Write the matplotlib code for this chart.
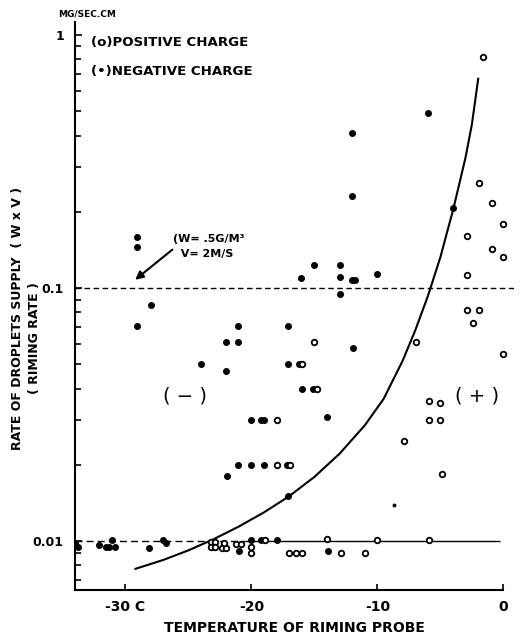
import numpy as np
import matplotlib
matplotlib.use("Agg")
import matplotlib.pyplot as plt
import matplotlib.ticker as ticker

# negative charge (filled dots): temperature (C), riming rate (mg/sec.cm)
neg_temp = [-34.0, -33.8, -32.1, -31.5, -31.3, -31.1, -30.8, -28.1, -27.0, -26.8,
            -29.1, -29.1, -29.1, -28.0,
            -21.1, -22.0, -21.1, -24.0, -22.0,
            -20.0, -19.2, -19.0,
            -21.1, -20.0, -19.0, -21.9,
            -17.1, -17.2, -16.0, -15.1, -17.1, -16.2, -14.0, -17.1, -11.9,
            -12.0, -12.0, -6.0, -4.0,
            -15.0, -13.0, -16.1, -13.0, -10.0, -12.0, -11.8, -13.0,
            -20.0, -19.2, -18.0, -21.0, -13.9]
neg_rate = [0.0098, 0.0095, 0.0096, 0.0095, 0.0095, 0.0101, 0.0095, 0.0094, 0.0101, 0.0098,
            0.159, 0.145, 0.071, 0.086,
            0.071, 0.061, 0.061, 0.050, 0.047,
            0.030, 0.030, 0.030,
            0.020, 0.020, 0.020, 0.018,
            0.015, 0.020, 0.040, 0.040, 0.050, 0.050, 0.031, 0.071, 0.058,
            0.41, 0.23, 0.49, 0.207,
            0.123, 0.123, 0.109, 0.110, 0.114, 0.107, 0.107, 0.095,
            0.0101, 0.0101, 0.0101, 0.0091, 0.0091]

# positive charge (open circles)
pos_temp = [-1.6, -1.9, -0.9, -0.05, -2.9, -0.9, -0.05, -2.9, -2.9, -1.9, -2.4, -0.05,
            -6.9, -15.0, -16.0, -14.8, -5.9, -5.0, -5.9, -5.0, -7.9, -4.9,
            -18.0, -18.0, -16.9,
            -18.9, -14.0, -10.0, -5.9,
            -17.0, -16.5, -16.0, -12.9, -11.0, -20.0, -20.0,
            -23.2, -23.2, -22.9, -22.9, -22.3, -22.0, -22.2, -21.2, -20.8]
pos_rate = [0.82, 0.26, 0.217, 0.179, 0.161, 0.143, 0.133, 0.113, 0.082, 0.082, 0.073, 0.055,
            0.061, 0.061, 0.050, 0.040, 0.0357, 0.0351, 0.030, 0.030, 0.0248, 0.0184,
            0.030, 0.020, 0.020,
            0.0101, 0.0102, 0.0101, 0.0101,
            0.0090, 0.0090, 0.0090, 0.0090, 0.0090, 0.0090, 0.0095,
            0.0099, 0.0095, 0.0099, 0.0095, 0.0094, 0.0094, 0.0098, 0.0097, 0.0097]

# stray small dot
stray_temp = [-8.7]
stray_rate = [0.0139]

# dividing curve
curve_temp = [-29.2, -27.0, -25.0, -23.0, -21.0, -19.0, -17.0, -15.0, -13.0, -11.0,
              -9.5, -8.0, -7.0, -6.0, -5.0, -4.5, -4.0, -3.5, -3.0, -2.5, -2.25, -2.0]
curve_rate = [0.00776, 0.00841, 0.00918, 0.01016, 0.0114, 0.01297, 0.01503, 0.01791,
              0.02213, 0.02864, 0.03648, 0.05152, 0.06792, 0.09268, 0.1324, 0.164,
              0.2028, 0.258, 0.3289, 0.4436, 0.546, 0.6714]

font = dict(family="DejaVu Sans", weight="bold")

fig = plt.figure(figsize=(5.2, 6.37), dpi=100)
ax = fig.add_axes([0.1442, 0.0738, 0.8433, 0.8917])
ax.set_yscale("log")
ax.set_xlim(-34, 0.8)
ax.set_ylim(0.0064, 1.125)

ax.plot(curve_temp, curve_rate, color="black", lw=1.5)
ax.plot(neg_temp, neg_rate, "o", color="black", ms=4, mec="black", zorder=3)
ax.plot(pos_temp, pos_rate, "o", mfc="white", mec="black", mew=1.3, ms=4, zorder=3)
ax.plot(stray_temp, stray_rate, "o", color="black", ms=1.8)

# reference lines
ax.hlines(0.1, -34, 0.8, colors="black", lw=1.0, linestyles=(0, (4, 2.5)))
ax.hlines(0.01, -34, -20.5, colors="black", lw=1.0, linestyles=(0, (5, 3)))
ax.hlines(0.01, -20.5, -0.3, colors="black", lw=1.0)

ax.annotate("", xy=(-29.4, 0.106), xytext=(-26.1, 0.144),
            arrowprops=dict(arrowstyle="-|>", color="black", lw=1.5, mutation_scale=12))
ax.text(-26.2, 0.146, "(W= .5G/M³\n  V= 2M/S", fontsize=8, linespacing=1.6,
        ha="left", va="center", **font)

ax.text(-25.3, 0.0374, "( − )", fontsize=14, ha="center", va="center", family="DejaVu Sans")
ax.text(-2.1, 0.0374, "( + )", fontsize=14, ha="center", va="center", family="DejaVu Sans")

ax.text(-32.7, 0.93, "(o)POSITIVE CHARGE", fontsize=9.6, ha="left", va="center", **font)
ax.text(-32.7, 0.72, "(•)NEGATIVE CHARGE", fontsize=9.6, ha="left", va="center", **font)

fig.text(0.112, 0.978, "MG/SEC.CM", fontsize=6.5, ha="left", va="center", **font)

# axes styling
for side in ["top", "right"]:
    ax.spines[side].set_visible(False)
ax.spines["left"].set_linewidth(1.5)
ax.spines["bottom"].set_linewidth(1.5)
ax.spines["bottom"].set_bounds(-34, 0)

ax.set_xticks([-30, -20, -10, 0])
ax.set_xticklabels(["-30 C", "-20", "-10", "0"], fontsize=10, **font)
ax.set_yticks([0.01, 0.1, 1])
ax.set_yticklabels(["0.01", "0.1", "1"], fontsize=9, **font)
ax.yaxis.set_minor_locator(ticker.LogLocator(base=10, subs=np.arange(2, 10)))
ax.yaxis.set_minor_formatter(ticker.NullFormatter())
ax.tick_params(axis="both", which="both", direction="in", width=1.2)
ax.tick_params(axis="y", which="major", length=5, pad=8)
ax.tick_params(axis="y", which="minor", length=4)
ax.tick_params(axis="x", which="major", length=4, pad=7)

ax.set_xlabel("TEMPERATURE OF RIMING PROBE", fontsize=10, labelpad=5, **font)
fig.text(0.034, 0.50, "RATE OF DROPLETS SUPPLY  ( W x V )", rotation=90, fontsize=9,
         ha="center", va="center", **font)
fig.text(0.067, 0.47, "( RIMING RATE )", rotation=90, fontsize=9,
         ha="center", va="center", **font)

fig.savefig("out.png", dpi=100)
